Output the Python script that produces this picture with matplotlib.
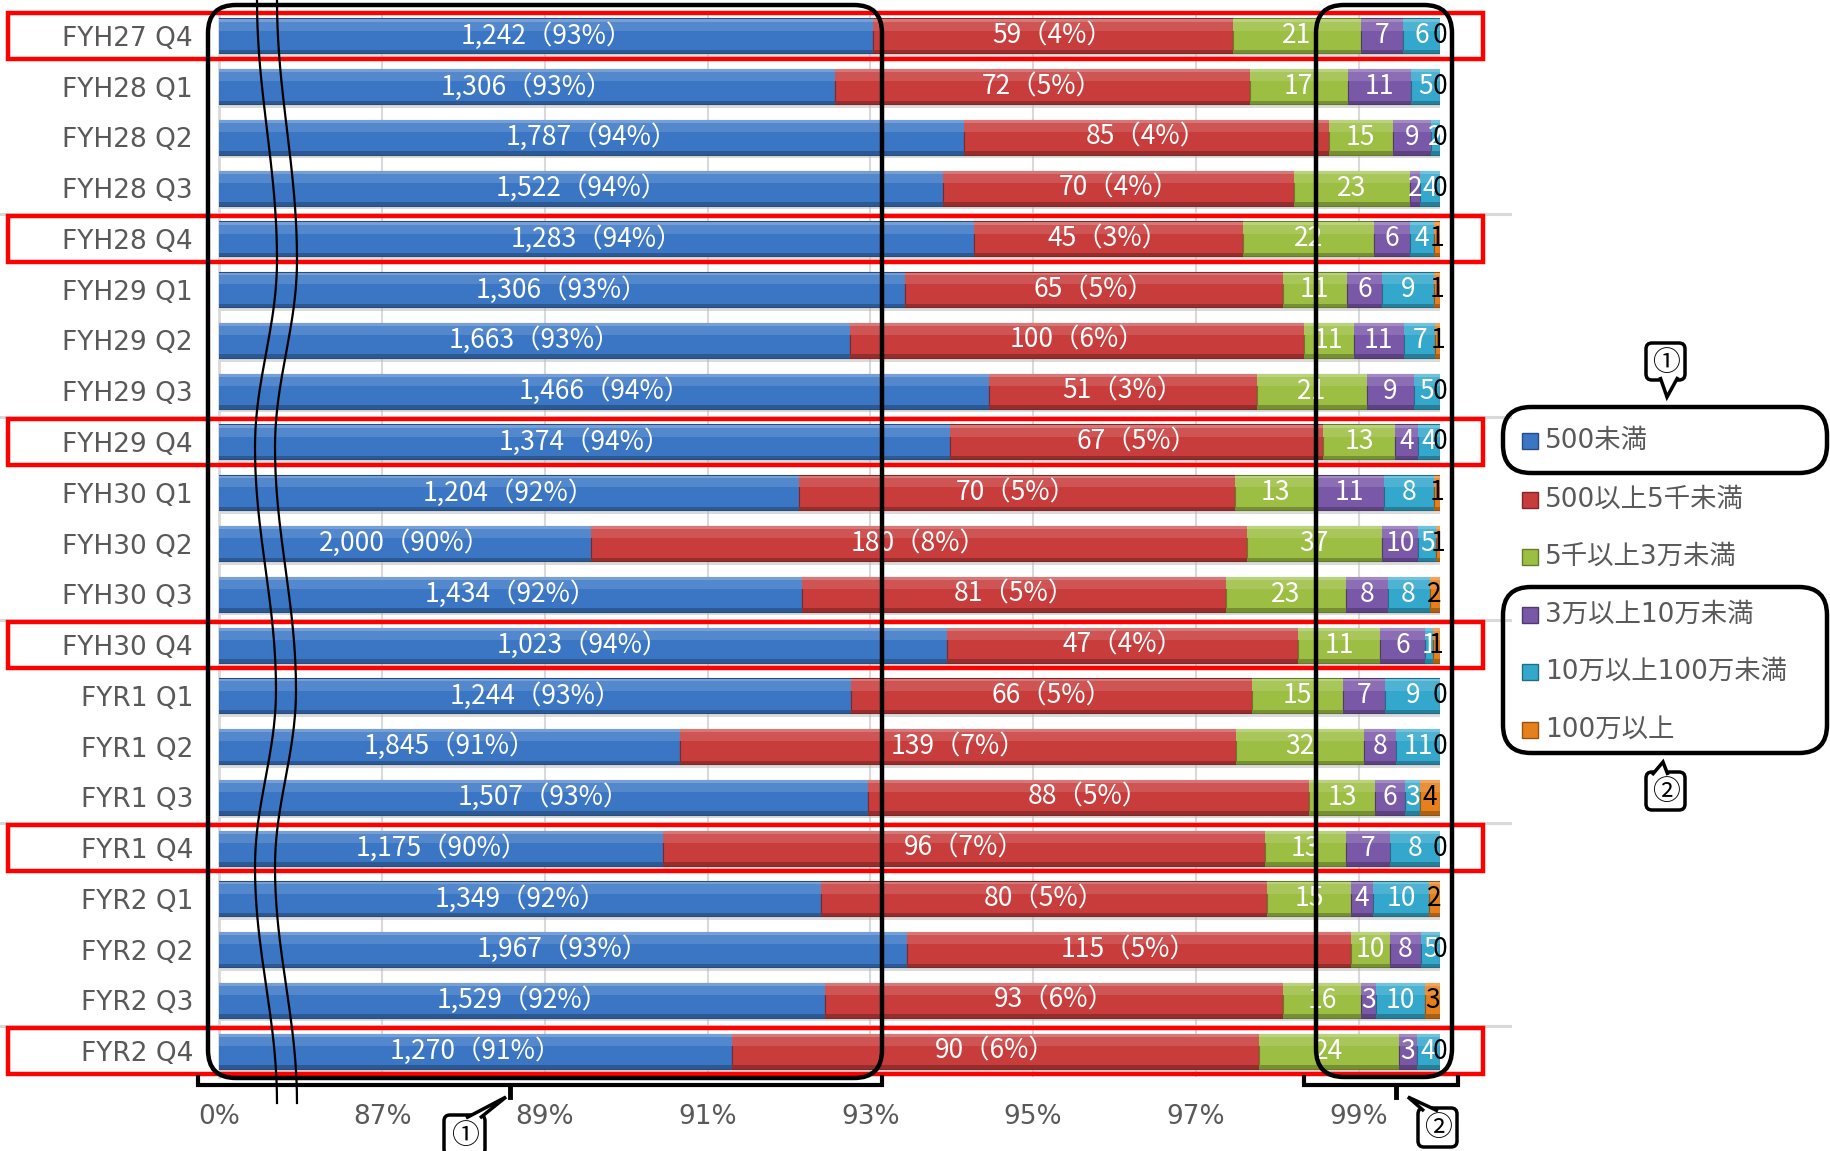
import numpy as np
import matplotlib
matplotlib.use('Agg')
import matplotlib.pyplot as plt
from matplotlib import font_manager
from matplotlib.patches import FancyBboxPatch, Rectangle, Polygon
from matplotlib import colors as mcolors

# ---- data ----
periods = ['FYH27 Q4', 'FYH28 Q1', 'FYH28 Q2', 'FYH28 Q3', 'FYH28 Q4',
           'FYH29 Q1', 'FYH29 Q2', 'FYH29 Q3', 'FYH29 Q4',
           'FYH30 Q1', 'FYH30 Q2', 'FYH30 Q3', 'FYH30 Q4',
           'FYR1 Q1', 'FYR1 Q2', 'FYR1 Q3', 'FYR1 Q4',
           'FYR2 Q1', 'FYR2 Q2', 'FYR2 Q3', 'FYR2 Q4']
lt_500    = [1242, 1306, 1787, 1522, 1283, 1306, 1663, 1466, 1374, 1204, 2000,
             1434, 1023, 1244, 1845, 1507, 1175, 1349, 1967, 1529, 1270]
r500_5k   = [59, 72, 85, 70, 45, 65, 100, 51, 67, 70, 180,
             81, 47, 66, 139, 88, 96, 80, 115, 93, 90]
r5k_30k   = [21, 17, 15, 23, 22, 11, 11, 21, 13, 13, 37,
             23, 11, 15, 32, 13, 13, 15, 10, 16, 24]
r30k_100k = [7, 11, 9, 2, 6, 6, 11, 9, 4, 11, 10,
             8, 6, 7, 8, 6, 7, 4, 8, 3, 3]
r100k_1m  = [6, 5, 2, 4, 4, 9, 7, 5, 4, 8, 5,
             8, 1, 9, 11, 3, 8, 10, 5, 10, 4]
ge_1m     = [0, 0, 0, 0, 1, 1, 1, 0, 0, 1, 1,
             2, 1, 0, 0, 4, 0, 2, 0, 3, 0]
series_names = ['500未満', '500以上5千未満', '5千以上3万未満',
                '3万以上10万未満', '10万以上100万未満', '100万以上']
tick_pos = [85, 87, 89, 91, 93, 95, 97, 99]
tick_labels = ['0%', '87%', '89%', '91%', '93%', '95%', '97%', '99%']
q4_rows = [0, 4, 8, 12, 16, 20]

colors = ['#3A76C4', '#C83C3C', '#9CBE42', '#7A58A8', '#34A8CC', '#E5801C']
label_colors = ['white', 'white', 'white', 'white', 'white', 'black']

vals = np.array([lt_500, r500_5k, r5k_30k, r30k_100k, r100k_1m, ge_1m]).T
pct = vals / vals.sum(axis=1, keepdims=True) * 100
n = len(periods)

def mix(c, other, f):
    c = np.array(mcolors.to_rgb(c))
    return tuple(c * (1 - f) + np.array(mcolors.to_rgb(other)) * f)

names = {f.name for f in font_manager.fontManager.ttflist}
if 'Liberation Sans Narrow' in names:
    lab_family = ['Liberation Sans Narrow', 'Noto Sans CJK JP']
    lab_size = 20.5
else:
    lab_family = ['Noto Sans CJK JP']
    lab_size = 19
gray_family = ['DejaVu Sans', 'Noto Sans CJK JP']
gray = '#595959'

W, H = 1831, 1151
fig = plt.figure(figsize=(W/100, H/100), dpi=100)
ax = fig.add_axes([219.5/W, 1-1076.5/H, (1440-219.5)/W, (1076.5-10.5)/H])

y = np.arange(n)
h = 0.69
left = np.zeros(n)
# drop shadow
ax.barh(y + h/2 + 0.035, 15, left=85, height=0.07, color='#b8b8b8', alpha=0.5, linewidth=0, zorder=2)
for k in range(6):
    w = pct[:, k]
    ax.barh(y, w, left=left, height=h, color=colors[k], edgecolor=mix(colors[k], 'black', 0.35),
            linewidth=0.8, zorder=3)
    ax.barh(y - h/2 + h*0.2, w, left=left, height=h*0.3, color=mix(colors[k], 'white', 0.13),
            linewidth=0, zorder=4)
    ax.barh(y - h/2 + h*0.05, w, left=left, height=h*0.08, color=mix(colors[k], 'white', 0.3),
            linewidth=0, zorder=4)
    ax.barh(y + h/2 - h*0.05, w, left=left, height=h*0.1, color=mix(colors[k], 'black', 0.25),
            linewidth=0, zorder=4)
    for i in range(n):
        x0 = max(left[i], 85)
        xc = (x0 + left[i] + w[i]) / 2
        if k < 2:
            s = '{:,}（{}%）'.format(vals[i, k], int(w[i] + 0.5))
        else:
            s = str(vals[i, k])
        ax.text(xc, i, s, ha='center', va='center', color=label_colors[k],
                fontsize=lab_size, family=lab_family, zorder=6)
    left = left + w

ax.set_xlim(85, 100)
ax.set_ylim(n - 0.5, -0.5)
ax.set_xticks(tick_pos)
ax.set_xticklabels(tick_labels, fontsize=19, color=gray, family=gray_family)
ax.set_yticks(y)
ax.set_yticklabels(periods, fontsize=19, color=gray, family=gray_family)
ax.tick_params(axis='x', length=0, pad=20)
ax.tick_params(axis='y', length=0, pad=19)
ax.xaxis.grid(True, color='#D9D9D9', linewidth=1.5, zorder=0)
ax.set_axisbelow(True)
for s in ['top', 'right', 'bottom']:
    ax.spines[s].set_visible(False)
ax.spines['left'].set_color('#D9D9D9')
ax.spines['left'].set_linewidth(2)

# ---- overlay in pixel coords ----
ov = fig.add_axes([0, 0, 1, 1], zorder=5)
ov.set_xlim(0, W)
ov.set_ylim(H, 0)
ov.axis('off')
ov.patch.set_alpha(0)

row0, step = 36.0, 50.75
for i in range(3, n, 4):
    yy = row0 + (i + 0.5) * step
    ov.plot([0, 1510], [yy, yy], color='#D9D9D9', lw=2.2, zorder=1)

for i in q4_rows:
    yc = row0 + i * step
    ov.add_patch(Rectangle((8, yc - 23), 1475, 46, fill=False, ec='#FF0000', lw=3.2, zorder=2))

def rbox(x0, y0, x1, y1, r, lw=3.2, fc='none'):
    ov.add_patch(FancyBboxPatch((x0, y0), x1 - x0, y1 - y0,
                                boxstyle='round,pad=0,rounding_size=%d' % r,
                                fc=fc, ec='black', lw=lw, zorder=4))

rbox(208, 5, 882, 1078, 28)
rbox(1316, 5, 1452, 1077, 28)
rbox(1503, 407, 1827, 473, 28)
rbox(1503, 587, 1827, 753, 28)

# wavy break lines
ext_y = [0, 260, 447, 690, 867, 1103]
ext_x = [257, 277, 255, 276, 255, 277]
wx, wy = [], []
for i in range(len(ext_y) - 1):
    t = np.linspace(0, 1, 40)
    wy.append(ext_y[i] + (ext_y[i+1] - ext_y[i]) * t)
    wx.append(ext_x[i] + (ext_x[i+1] - ext_x[i]) * (1 - np.cos(np.pi * t)) / 2)
wx = np.concatenate(wx)
wy = np.concatenate(wy)
ov.plot(wx, wy, color='black', lw=1.6, zorder=4)
ov.plot(wx + 20, wy, color='black', lw=1.6, zorder=4)

# brackets under axis
for xa, xb, xm in [(198, 882, 510), (1304, 1458, 1396)]:
    ov.plot([xa, xa, xb, xb], [1077, 1085, 1085, 1077], color='black', lw=3, zorder=4,
            solid_joinstyle='miter')
    ov.plot([xm, xm], [1085, 1097], color='black', lw=3.5, zorder=4)

def callout(x0, y0, x1, y1, a, b, tip, txt):
    rbox(x0, y0, x1, y1, 6, lw=2.5, fc='white')
    ov.add_patch(Polygon([a, tip, b], closed=False, fc='white', ec='black', lw=2.5, zorder=5))
    ov.text((x0 + x1) / 2, (y0 + y1) / 2 + 1, txt, ha='center', va='center', fontsize=20,
            family=['Noto Sans CJK JP'], zorder=6)

callout(1646, 343, 1685, 380, (1660, 377), (1678, 377), (1667, 397), '①')
callout(1646, 772, 1685, 810, (1652, 775), (1668, 775), (1663, 762), '②')
callout(444, 1115, 485, 1155, (466, 1118), (480, 1118), (506, 1097), '①')
callout(1418, 1108, 1457, 1147, (1424, 1111), (1438, 1111), (1408, 1097), '②')

# legend
leg_y = [441, 500, 557, 615, 672, 730]
for k in range(6):
    ov.add_patch(Rectangle((1522, leg_y[k] - 8), 16, 16, fc=colors[k],
                           ec=mix(colors[k], 'black', 0.35), lw=1, zorder=4))
    ov.text(1545, leg_y[k], series_names[k], ha='left', va='center', fontsize=19,
            color=gray, family=gray_family, zorder=4)

fig.savefig('out.png', dpi=100)
